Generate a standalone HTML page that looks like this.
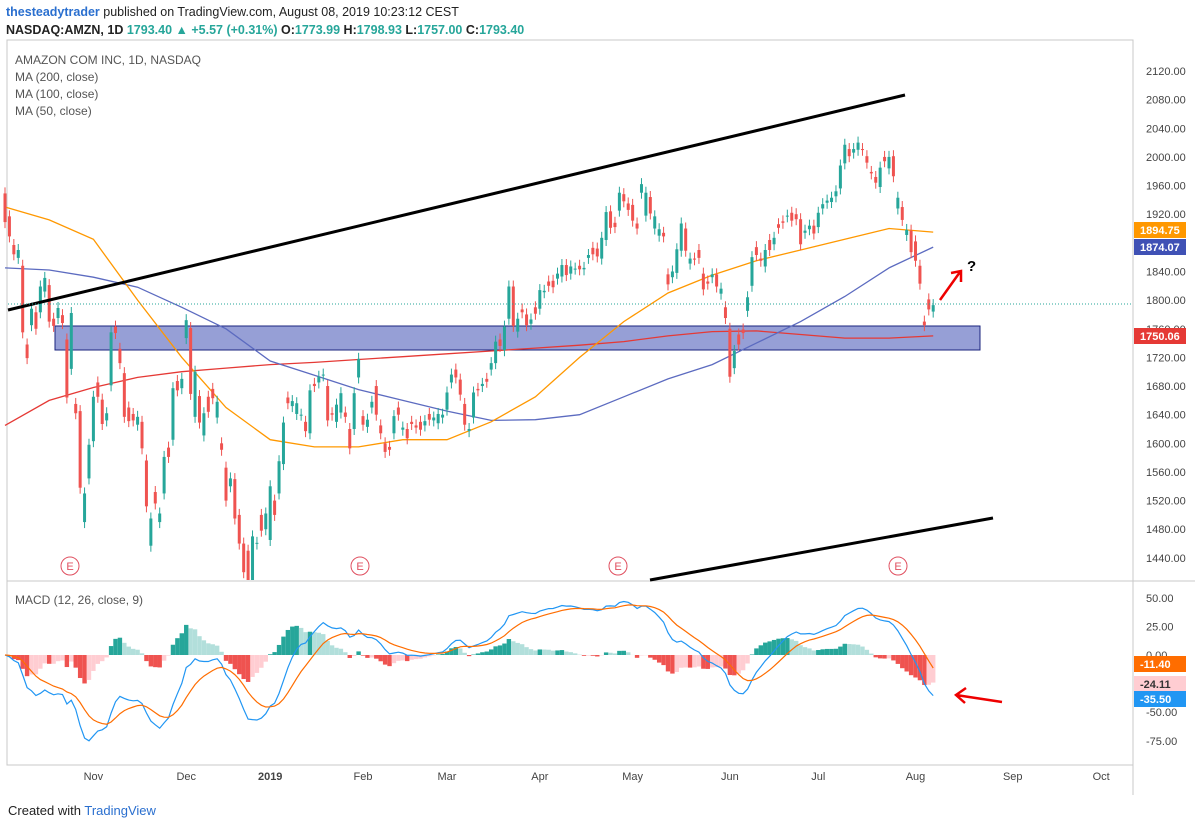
<!DOCTYPE html>
<html><head><meta charset="utf-8">
<style>
body{margin:0;background:#fff;font-family:"Liberation Sans",sans-serif;}
svg text{font-family:"Liberation Sans",sans-serif;}
</style></head>
<body>
<svg id="c" width="1195" height="828" xmlns="http://www.w3.org/2000/svg">
<rect x="0" y="0" width="1195" height="828" fill="#fff"/>
<text x="6" y="16" font-size="12.5" fill="#222"><tspan font-weight="bold" fill="#2a6fcf">thesteadytrader</tspan> published on TradingView.com, August 08, 2019 10:23:12 CEST</text>
<text x="6" y="34" font-size="12.5" font-weight="bold" fill="#222">NASDAQ:AMZN, 1D <tspan fill="#26a69a">1793.40 ▲ +5.57 (+0.31%)</tspan> O:<tspan fill="#26a69a">1773.99</tspan> H:<tspan fill="#26a69a">1798.93</tspan> L:<tspan fill="#26a69a">1757.00</tspan> C:<tspan fill="#26a69a">1793.40</tspan></text>
<rect x="7" y="40" width="1126" height="725" fill="none" stroke="#c8c8c8"/>
<line x1="7" y1="581" x2="1195" y2="581" stroke="#c8c8c8"/>
<line x1="1133" y1="40" x2="1133" y2="795" stroke="#c8c8c8"/>
<text x="15" y="64" font-size="12" fill="#555">AMAZON COM INC, 1D, NASDAQ</text>
<text x="15" y="81" font-size="12" fill="#555">MA (200, close)</text>
<text x="15" y="98" font-size="12" fill="#555">MA (100, close)</text>
<text x="15" y="115" font-size="12" fill="#555">MA (50, close)</text>
<text x="15" y="604" font-size="12" fill="#555">MACD (12, 26, close, 9)</text>
<rect x="55" y="326" width="925" height="24" fill="#3f51b5" fill-opacity="0.55" stroke="#1a237e"/>
<g id="grid"></g>
<g id="ma"></g>
<g id="candles"></g>
<g id="macd"></g>
<g id="axes"></g>
<line x1="8" y1="310" x2="905" y2="95" stroke="#000" stroke-width="3"/>
<line x1="650" y1="580" x2="993" y2="518" stroke="#000" stroke-width="3"/>
<line x1="8" y1="304" x2="1133" y2="304" stroke="#26a69a" stroke-dasharray="1,2"/>
<path d="M940 300 L960 272 M951 273 L961 271 L961 282" stroke="#e00" stroke-width="2.5" fill="none"/>
<text x="967" y="271" font-size="15" font-weight="bold" fill="#000">?</text>
<path d="M1002 702 L956 695 M966 688 L956 695 L965 703" stroke="#e00" stroke-width="2.5" fill="none"/>
<g>
<circle cx="70" cy="566" r="9" fill="#fff" stroke="#e05060"/><text x="70" y="570" font-size="11" fill="#e05060" text-anchor="middle">E</text>
<circle cx="360" cy="566" r="9" fill="#fff" stroke="#e05060"/><text x="360" y="570" font-size="11" fill="#e05060" text-anchor="middle">E</text>
<circle cx="618" cy="566" r="9" fill="#fff" stroke="#e05060"/><text x="618" y="570" font-size="11" fill="#e05060" text-anchor="middle">E</text>
<circle cx="898" cy="566" r="9" fill="#fff" stroke="#e05060"/><text x="898" y="570" font-size="11" fill="#e05060" text-anchor="middle">E</text>
</g>
<text x="8" y="815" font-size="13" fill="#222">Created with <tspan fill="#2a6fcf">TradingView</tspan></text>
</svg>
<script>
const closes=[1909,1889,1864,1870,1755,1719,1788,1760,1819,1831,1770,1764,1789,1768,1664,1782,1642,1538,1530,1598,
1665,1665,1627,1642,1755,1754,1712,1637,1631,1632,1637,1593,1512,1495,1516,1502,1581,1581,1677,1674,1690,
1772,1669,1700,1629,1642,1644,1663,1658,1591,1520,1551,1495,1460,1420,1400,1470,1461,1478,1502,
1540,1500,1575,1629,1656,1659,1656,1640,1617,1674,1680,1693,1696,1632,1640,1654,1670,1637,1593,1670,1718,
1626,1633,1658,1640,1614,1588,1591,1638,1640,1622,1607,1627,1622,1619,1631,1633,1636,1641,1640,
1671,1696,1692,1668,1626,1620,1671,1674,1683,1686,1712,1742,1736,1763,1819,1764,1774,1783,1765,1773,1781,
1814,1813,1820,1818,1837,1849,1835,1847,1844,1843,1845,1863,1864,1861,1887,1923,1901,1902,1950,1938,1926,
1911,1900,1962,1950,1921,1917,1899,1889,1822,1840,1871,1907,1869,1858,1857,1859,1815,1823,1836,1819,1816,1775,
1693,1729,1738,1754,1804,1860,1863,1855,1870,1870,1887,1901,1908,1918,1911,1913,1878,1897,1904,1893,
1922,1934,1939,1943,1952,1988,2017,2001,2011,2020,2010,1992,1977,1964,1985,1994,2000,1973,1943,1912,1898,1867,
1855,1823,1765,1787,1793];
const opens=[1949,1917,1877,1859,1848,1738,1765,1783,1783,1812,1821,1774,1775,1779,1745,1704,1655,1645,1490,1551,
1603,1685,1661,1632,1681,1763,1732,1698,1650,1641,1626,1630,1576,1457,1532,1490,1530,1594,1605,1687,1677,
1747,1761,1637,1666,1611,1665,1676,1636,1600,1566,1540,1550,1500,1460,1450,1366,1460,1500,1480,
1465,1520,1530,1571,1664,1652,1641,1640,1630,1614,1683,1685,1695,1680,1642,1630,1643,1643,1620,1620,1692,
1638,1623,1650,1680,1625,1600,1595,1614,1650,1619,1620,1630,1625,1630,1625,1641,1632,1628,1636,
1647,1685,1703,1689,1655,1617,1636,1676,1680,1690,1703,1712,1745,1730,1774,1819,1756,1787,1780,1767,1790,
1788,1811,1826,1827,1830,1833,1849,1837,1844,1848,1843,1859,1873,1872,1858,1884,1924,1908,1925,1948,1935,
1933,1907,1950,1918,1944,1900,1890,1894,1836,1832,1838,1869,1900,1851,1858,1870,1837,1826,1832,1836,1809,1790,
1760,1705,1752,1759,1785,1820,1874,1858,1847,1884,1878,1906,1910,1917,1922,1920,1913,1894,1899,1904,
1902,1928,1936,1937,1945,1956,1991,2011,2006,2010,2011,2001,1979,1972,1958,2000,1984,2001,1928,1930,1891,1897,
1882,1848,1770,1801,1784];
const ma50=[1930,1912,1885,1800,1720,1650,1605,1595,1595,1605,1605,1630,1665,1720,1770,1810,1835,1855,1870,1885,1900,1895];
const ma100=[1845,1842,1832,1818,1790,1760,1715,1695,1675,1660,1645,1632,1633,1640,1665,1690,1710,1740,1770,1805,1845,1874];
const ma200=[1625,1660,1678,1692,1700,1705,1710,1713,1717,1721,1725,1729,1733,1737,1742,1750,1756,1757,1752,1747,1747,1750];
const priceTicks=[2120,2080,2040,2000,1960,1920,1880,1840,1800,1760,1720,1680,1640,1600,1560,1520,1480,1440];
const macdTicks=[50,25,0,-25,-50,-75];
const monthLabels=["Nov","Dec","2019","Feb","Mar","Apr","May","Jun","Jul","Aug","Sep","Oct"];
const monthIdx=[20,41,60,81,100,121,142,164,184,206,228,248];

const NS="http://www.w3.org/2000/svg";
const X=i=>5+i*4.42;
const Y=p=>71+(2120-p)*0.716;
const MY=v=>655-v*1.144;
function mk(tag,attrs,parent){const e=document.createElementNS(NS,tag);for(const k in attrs)e.setAttribute(k,attrs[k]);parent.appendChild(e);return e;}
const clipTop=41,clipBot=580;
// MAs
const gMa=document.getElementById('ma');
[[ma200,'#e53935','ma200-line'],[ma100,'#5c6bc0','ma100-line'],[ma50,'#ff9800','ma50-line']].forEach(([arr,col,nm])=>{
  const d=arr.map((v,k)=>(k?'L':'M')+X(k*10).toFixed(1)+' '+Y(v).toFixed(1)).join(' ');
  const p=mk('path',{d:d,stroke:col,fill:'none','stroke-width':1.3},gMa);
  
  
});
// candles
const gC=document.getElementById('candles');
closes.forEach((c,i)=>{
  const o=opens[i],up=c>=o,col=up?'#26a69a':'#ef5350';
  const top=Math.max(Y(Math.max(o,c))-6,clipTop),bot=Math.min(Y(Math.min(o,c))+6,clipBot);
  const g=mk('g',{},gC);
  
  
  mk('line',{x1:X(i),x2:X(i),y1:top,y2:bot,stroke:col},g);
  const y1=Math.max(Y(Math.max(o,c)),clipTop),y2=Math.min(Y(Math.min(o,c)),clipBot);
  if(y2>y1-1) mk('rect',{x:X(i)-1.5,y:y1,width:3,height:Math.max(1,y2-y1),fill:col},g);
});
// MACD
function ema(a,n){const k=2/(n+1);let r=[],e=a[0];a.forEach((v,i)=>{e=i?v*k+e*(1-k):v;r.push(e);});return r;}
const e12=ema(closes,12),e26=ema(closes,26);
const macd=e12.map((v,i)=>v-e26[i]);const sig=ema(macd,9);const hist=macd.map((v,i)=>v-sig[i]);
const gM=document.getElementById('macd');
hist.forEach((h,i)=>{
  const prev=i?hist[i-1]:0;
  const col=h>=0?(h>=prev?'#26a69a':'#b2dfdb'):(h<prev?'#ef5350':'#ffcdd2');
  const r=mk('rect',{x:X(i)-2.2,y:Math.min(MY(h),MY(0)),width:4.4,height:Math.abs(MY(h)-MY(0)),fill:col},gM);
  
  
});
[[macd,'#2196f3','macd-line'],[sig,'#ff6d00','signal-line']].forEach(([arr,col,nm])=>{
  const p=mk('path',{d:arr.map((v,i)=>(i?'L':'M')+X(i).toFixed(1)+' '+MY(v).toFixed(1)).join(' '),stroke:col,fill:'none','stroke-width':1.2},gM);
  
  
});
// axes
const gA=document.getElementById('axes');
priceTicks.forEach(p=>{
  const t=mk('text',{x:1146,y:Y(p)+4,'font-size':11,fill:'#444'},gA);t.textContent=p.toFixed(2);
  
  
});
macdTicks.forEach(v=>{
  const t=mk('text',{x:1146,y:MY(v)+4,'font-size':11,fill:'#444'},gA);t.textContent=v.toFixed(2);
  
  
});
monthLabels.forEach((m,k)=>{
  const t=mk('text',{x:X(monthIdx[k]),y:780,'font-size':11,fill:'#444','text-anchor':'middle','font-weight':m==='2019'?'bold':'normal'},gA);t.textContent=m;
  
  
});
function badge(y,txt,bg,fg,nm){
  const g=mk('g',{},gA);
  
  
  mk('rect',{x:1134,y:y-8,width:52,height:16,fill:bg},g);
  const t=mk('text',{x:1140,y:y+4,'font-size':11,fill:fg,'font-weight':'bold'},g);t.textContent=txt;
}
badge(230,'1894.75','#ff9800','#fff','ma50-badge');
badge(247,'1874.07','#3f51b5','#fff','ma100-badge');
badge(336,'1750.06','#e53935','#fff','ma200-badge');
badge(664,'-11.40','#ff6d00','#fff','signal-badge');
badge(684,'-24.11','#ffcdd2','#333','histogram-badge');
badge(699,'-35.50','#2196f3','#fff','macd-badge');
</script>
</body></html>
